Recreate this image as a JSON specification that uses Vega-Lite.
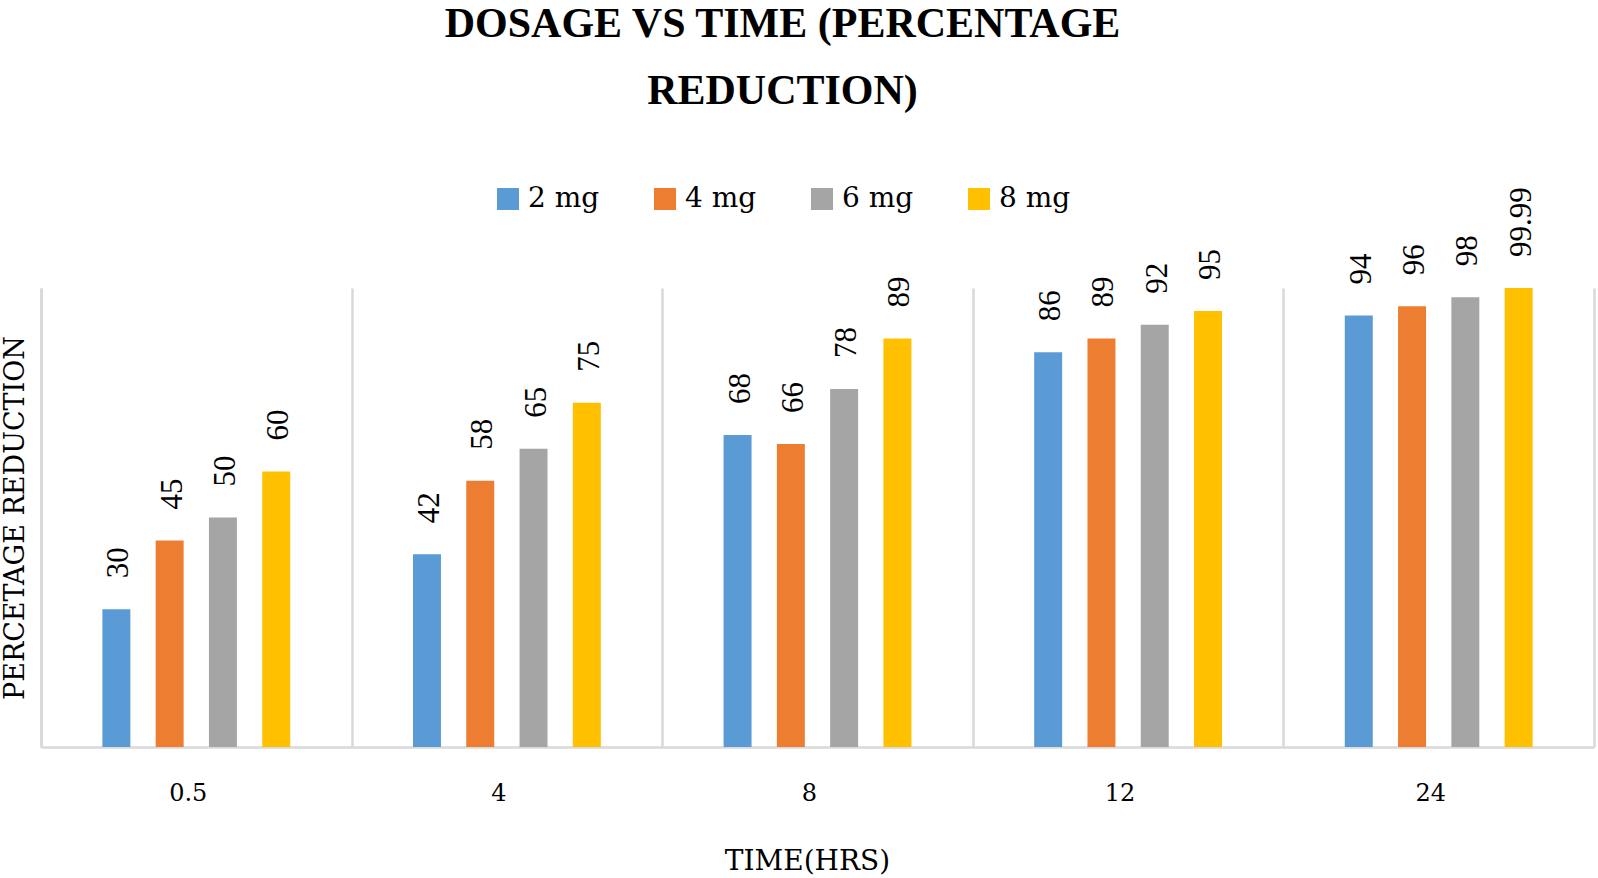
{
  "$schema": "https://vega.github.io/schema/vega-lite/v6.json",
  "width": 1553,
  "height": 459,
  "autosize": {"type": "none"},
  "padding": {"left": 41, "top": 288, "right": 4, "bottom": 131},
  "background": "white",
  "title": {
    "text": ["DOSAGE VS TIME (PERCENTAGE", "REDUCTION)"],
    "font": "Liberation Serif",
    "fontWeight": "bold",
    "fontSize": 42,
    "lineHeight": 67,
    "color": "#000000",
    "anchor": "middle",
    "frame": "group",
    "dx": -35,
    "dy": -68
  },
  "data": {
    "values": [
      {"time": "0.5", "dose": "2 mg", "value": 30},
      {"time": "0.5", "dose": "4 mg", "value": 45},
      {"time": "0.5", "dose": "6 mg", "value": 50},
      {"time": "0.5", "dose": "8 mg", "value": 60},
      {"time": "4", "dose": "2 mg", "value": 42},
      {"time": "4", "dose": "4 mg", "value": 58},
      {"time": "4", "dose": "6 mg", "value": 65},
      {"time": "4", "dose": "8 mg", "value": 75},
      {"time": "8", "dose": "2 mg", "value": 68},
      {"time": "8", "dose": "4 mg", "value": 66},
      {"time": "8", "dose": "6 mg", "value": 78},
      {"time": "8", "dose": "8 mg", "value": 89},
      {"time": "12", "dose": "2 mg", "value": 86},
      {"time": "12", "dose": "4 mg", "value": 89},
      {"time": "12", "dose": "6 mg", "value": 92},
      {"time": "12", "dose": "8 mg", "value": 95},
      {"time": "24", "dose": "2 mg", "value": 94},
      {"time": "24", "dose": "4 mg", "value": 96},
      {"time": "24", "dose": "6 mg", "value": 98},
      {"time": "24", "dose": "8 mg", "value": 99.99}
    ]
  },
  "layer": [
    {
      "mark": {"type": "bar"},
      "encoding": {
        "x": {
          "field": "time",
          "type": "nominal",
          "sort": ["0.5", "4", "8", "12", "24"],
          "scale": {"paddingInner": 0.2, "paddingOuter": 0.1},
          "axis": {
            "orient": "top",
            "bandPosition": 0,
            "tickOffset": -31.06,
            "grid": true,
            "gridColor": "#d9d9d9",
            "gridWidth": 2.5,
            "labels": false,
            "ticks": false,
            "domain": false,
            "title": null
          }
        },
        "xOffset": {
          "field": "dose",
          "type": "nominal",
          "scale": {"paddingInner": 0.475, "paddingOuter": 0.569}
        },
        "y": {
          "field": "value",
          "type": "quantitative",
          "scale": {"domain": [0, 100], "nice": false},
          "axis": {
            "orient": "left",
            "labels": false,
            "ticks": false,
            "grid": false,
            "domain": true,
            "domainColor": "#d9d9d9",
            "domainWidth": 2.5,
            "title": "PERCETAGE REDUCTION",
            "titleFont": "DejaVu Serif",
            "titleFontWeight": "normal",
            "titleFontSize": 27,
            "titleColor": "#000000",
            "titlePadding": 12
          }
        },
        "color": {
          "field": "dose",
          "type": "nominal",
          "scale": {
            "domain": ["2 mg", "4 mg", "6 mg", "8 mg"],
            "range": ["#5B9BD5", "#ED7D31", "#A5A5A5", "#FFC000"]
          },
          "legend": {
            "orient": "none",
            "legendX": 453,
            "legendY": -103,
            "direction": "horizontal",
            "title": null,
            "symbolType": "square",
            "symbolSize": 484,
            "symbolStrokeWidth": 0,
            "symbolOpacity": 1,
            "labelFont": "DejaVu Serif",
            "labelFontSize": 28,
            "labelColor": "#000000",
            "labelOffset": 6,
            "columnPadding": 51
          }
        }
      }
    },
    {
      "mark": {
        "type": "text",
        "angle": 270,
        "align": "left",
        "baseline": "middle",
        "dx": 31,
        "dy": 3,
        "font": "Liberation Sans Narrow",
        "fontSize": 31,
        "color": "#000000"
      },
      "encoding": {
        "x": {
          "field": "time",
          "type": "nominal",
          "sort": ["0.5", "4", "8", "12", "24"],
          "axis": {
            "orient": "bottom",
            "grid": false,
            "ticks": false,
            "domain": true,
            "domainColor": "#d9d9d9",
            "domainWidth": 2.5,
            "labelAngle": 0,
            "labelFont": "DejaVu Serif",
            "labelFontSize": 24,
            "labelColor": "#000000",
            "labelPadding": 34,
            "labelOffset": -8,
            "title": "TIME(HRS)",
            "titleFont": "DejaVu Serif",
            "titleFontWeight": "normal",
            "titleFontSize": 28,
            "titleColor": "#000000",
            "titlePadding": 42,
            "titleX": 766,
            "titleAlign": "center"
          }
        },
        "xOffset": {"field": "dose", "type": "nominal"},
        "y": {
          "field": "value",
          "type": "quantitative",
          "axis": {
            "orient": "right",
            "labels": false,
            "ticks": false,
            "grid": false,
            "domain": true,
            "domainColor": "#d9d9d9",
            "domainWidth": 2.5,
            "title": null
          }
        },
        "text": {"field": "value", "type": "quantitative"}
      }
    }
  ],
  "resolve": {"axis": {"x": "independent", "y": "independent"}},
  "config": {
    "view": {"stroke": null}
  }
}
